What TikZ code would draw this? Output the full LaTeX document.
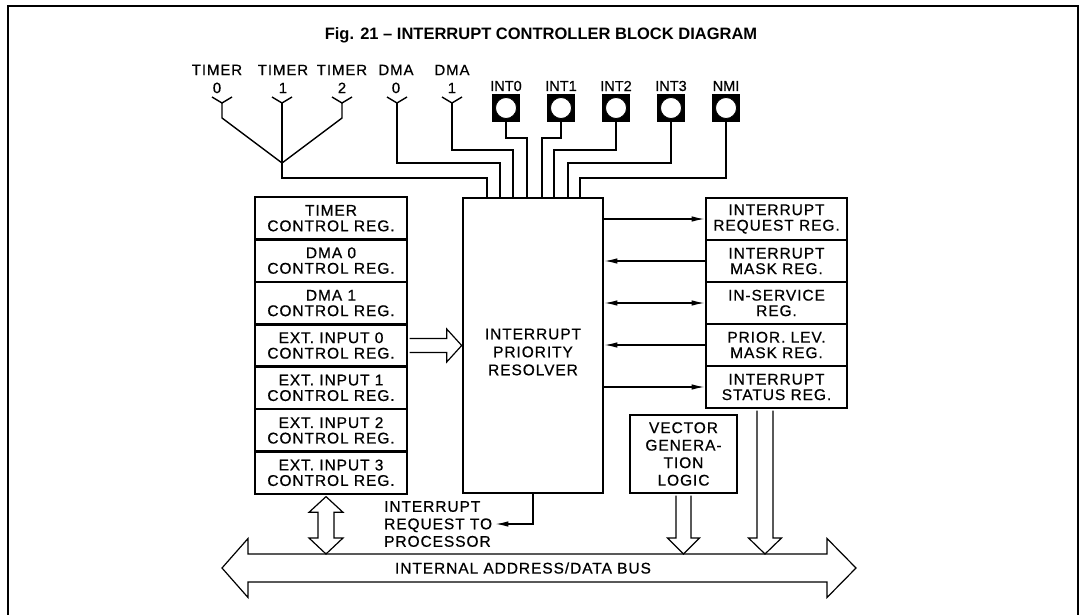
\documentclass[tikz,border=0pt]{standalone}
\usepackage{fontspec}
\setmainfont{Liberation Sans}
\newfontfamily\blkfont[LetterSpace=6,FakeBold=0.6]{Liberation Sans}
\newfontfamily\lblfont[FakeBold=0.6]{Liberation Sans}
\usetikzlibrary{arrows.meta,calc}
\begin{document}
\begin{tikzpicture}[x=1pt,y=-1pt,
  wire/.style={line width=1.4pt},
  blkbox/.style={draw, line width=2.6pt, inner sep=0pt, align=center},
  regtext/.style={font=\blkfont\fontsize{15.5}{15.5}\selectfont},
  lreg/.style={blkbox, regtext, minimum width=152pt, minimum height=42.43pt},
  rreg/.style={blkbox, regtext, minimum width=141pt, minimum height=42pt},
  hollow/.style={draw, line width=1.2pt, fill=white, line join=miter},
  toplbl/.style={font=\blkfont\fontsize{15}{18}\selectfont, align=center, inner sep=0pt},
  intlbl/.style={font=\lblfont\fontsize{14.5}{18}\selectfont, align=center, inner sep=0pt},
  intbox/.style={fill=black, minimum width=28pt, minimum height=27pt, inner sep=0pt,
    path picture={\fill[white,draw=black,line width=0.8pt] (path picture bounding box.center) circle (10.5pt);}},
  tip/.style={-{Latex[length=13pt,width=5.5pt]}},
  tips/.style={{Latex[length=13pt,width=5.5pt]}-{Latex[length=13pt,width=5.5pt]}}
]
\useasboundingbox (0,0) rectangle (1083,615);
% frame
\draw[line width=1.2pt] (8,615) -- (8,6) -- (1078,6) -- (1078,615);
% title
\node[font=\bfseries\fontsize{16.5}{20}\selectfont] (title) at (541,35) {Fig. 21 – INTERRUPT CONTROLLER BLOCK DIAGRAM};

% top labels
\node[toplbl] (t0) at (217,79) {TIMER\\0};
\node[toplbl] (t1) at (283,79) {TIMER\\1};
\node[toplbl] (t2) at (342,79) {TIMER\\2};
\node[toplbl] (d0) at (396,79) {DMA\\0};
\node[toplbl] (d1) at (452,79) {DMA\\1};
\node[intlbl] (l0) at (506,86) {INT0};
\node[intlbl] (l1) at (561,86) {INT1};
\node[intlbl] (l2) at (616,86) {INT2};
\node[intlbl] (l3) at (671,86) {INT3};
\node[intlbl] (l4) at (726,86) {NMI};
\node[intbox] (i0) at (506,108) {};
\node[intbox] (i1) at (561,108) {};
\node[intbox] (i2) at (616,108) {};
\node[intbox] (i3) at (671,108) {};
\node[intbox] (nmi) at (726,108) {};

\coordinate (f0) at (222,103);
\coordinate (f1) at (282,103);
\coordinate (f2) at (342,103);
\coordinate (f3) at (397,103);
\coordinate (f4) at (452,103);
\coordinate (tj) at (282,163);
\foreach \f in {f0,f1,f2,f3,f4}
  \draw[wire] ([xshift=-10pt,yshift=6pt]\f) -- (\f) -- ([xshift=10pt,yshift=6pt]\f);

% resolver
\node[blkbox, minimum width=140pt, minimum height=295pt] (res) at (533,345.5) {};
\node[align=center, font=\blkfont\fontsize{15.5}{18}\selectfont] (restext) at (533,352) {INTERRUPT\\PRIORITY\\RESOLVER};

% wires to resolver
\draw[wire] (f0) -- ++(0,15) -- (tj);
\draw[wire] (f1) -- (tj);
\draw[wire] (f2) -- ++(0,15) -- (tj);
\draw[wire] (tj) |- (487,178) -- (487,0 |- res.north);
\draw[wire] (f3) |- (500,163) -- (500,0 |- res.north);
\draw[wire] (f4) |- (513,150) -- (513,0 |- res.north);
\draw[wire] (i0.south) |- (527,138) -- (527,0 |- res.north);
\draw[wire] (i1.south) |- (542,138) -- (542,0 |- res.north);
\draw[wire] (i2.south) |- (554,150) -- (554,0 |- res.north);
\draw[wire] (i3.south) |- (568,163) -- (568,0 |- res.north);
\draw[wire] (nmi.south) |- (580,178) -- (580,0 |- res.north);

% left register stack
\node[lreg] (tcr) at (331,218.2) {TIMER\\CONTROL REG.};
\node[lreg] (dcr0) at (331,260.6) {DMA 0\\CONTROL REG.};
\node[lreg] (dcr1) at (331,303.1) {DMA 1\\CONTROL REG.};
\node[lreg] (ext0) at (331,345.5) {EXT. INPUT 0\\CONTROL REG.};
\node[lreg] (ext1) at (331,387.9) {EXT. INPUT 1\\CONTROL REG.};
\node[lreg] (ext2) at (331,430.4) {EXT. INPUT 2\\CONTROL REG.};
\node[lreg] (ext3) at (331,472.8) {EXT. INPUT 3\\CONTROL REG.};

% right register stack
\node[rreg] (irr) at (776.5,219) {INTERRUPT\\REQUEST REG.};
\node[rreg] (imr) at (776.5,261) {INTERRUPT\\MASK REG.};
\node[rreg] (isv) at (776.5,303) {IN-SERVICE\\REG.};
\node[rreg] (plm) at (776.5,345) {PRIOR. LEV.\\MASK REG.};
\node[rreg] (isr) at (776.5,387) {INTERRUPT\\STATUS REG.};

% vector generation logic
\node[blkbox, minimum width=107pt, minimum height=78pt, font=\blkfont\fontsize{15.5}{17.5}\selectfont] (vec) at (683.5,454) {VECTOR\\GENERA-\\TION\\LOGIC};

% resolver <-> right registers
\draw[wire,tip] (res.east |- irr.west) -- (irr.west);
\draw[wire,tip] (imr.west) -- (res.east |- imr.west);
\draw[wire,tips] (res.east |- isv.west) -- (isv.west);
\draw[wire,tip] (plm.west) -- (res.east |- plm.west);
\draw[wire,tip] (res.east |- isr.west) -- (isr.west);

% interrupt request to processor
\node[anchor=west, align=left, inner sep=0pt, font=\blkfont\fontsize{15.5}{17.5}\selectfont] (irq) at (384,524) {INTERRUPT\\REQUEST TO\\PROCESSOR};
\draw[wire,tip] (res.south) |- ([xshift=3pt]irq.east);

% hollow arrow ext0 -> resolver
\draw[hollow] let \p1=(ext0.east), \p2=(res.west) in
  (\x1+1.3pt,\y1+7pt) -- (\x2-15pt,\y1+7pt) -- (\x2-15pt,\y1+16.5pt) -- (\x2,\y1)
  -- (\x2-15pt,\y1-16.5pt) -- (\x2-15pt,\y1-7pt) -- (\x1+1.3pt,\y1-7pt);

% bus
\coordinate (busL) at (222,568);
\coordinate (busR) at (856,568);
\draw[hollow] let \p1=(busL), \p2=(busR) in
  (\x1,\y1) -- (\x1+26pt,\y1+29.5pt) -- (\x1+26pt,\y1+14pt) -- (\x2-29pt,\y1+14pt)
  -- (\x2-29pt,\y1+29.5pt) -- (\x2,\y1) -- (\x2-29pt,\y1-29.5pt) -- (\x2-29pt,\y1-14pt)
  -- (\x1+26pt,\y1-14pt) -- (\x1+26pt,\y1-29.5pt) -- cycle;
\node[regtext] (buslbl) at (523,568) {INTERNAL ADDRESS/DATA BUS};

% stack <-> bus
\draw[hollow] let \p1=([xshift=-5pt]ext3.south), \p2=(busL) in
  (\x1,\y1-1.3pt) -- (\x1+17pt,\y1-17pt) -- (\x1+8pt,\y1-17pt) -- (\x1+8pt,\y2+30pt)
  -- (\x1+17pt,\y2+30pt) -- (\x1,\y2+14pt) -- (\x1-17pt,\y2+30pt) -- (\x1-8pt,\y2+30pt)
  -- (\x1-8pt,\y1-17pt) -- (\x1-17pt,\y1-17pt) -- cycle;

% vector -> bus
\draw[hollow] let \p1=(vec.south), \p2=(busL) in
  (\x1-7.5pt,\y1-1.3pt) -- (\x1-7.5pt,\y2+30pt) -- (\x1-16pt,\y2+30pt) -- (\x1,\y2+14pt)
  -- (\x1+16pt,\y2+30pt) -- (\x1+7.5pt,\y2+30pt) -- (\x1+7.5pt,\y1-1.3pt);
% status -> bus
\draw[hollow] let \p1=(765,0 |- isr.south), \p2=(busL) in
  (\x1-8pt,\y1-1.3pt) -- (\x1-8pt,\y2+30pt) -- (\x1-16.5pt,\y2+30pt) -- (\x1,\y2+14pt)
  -- (\x1+16.5pt,\y2+30pt) -- (\x1+8pt,\y2+30pt) -- (\x1+8pt,\y1-1.3pt);
\end{tikzpicture}
\end{document}
